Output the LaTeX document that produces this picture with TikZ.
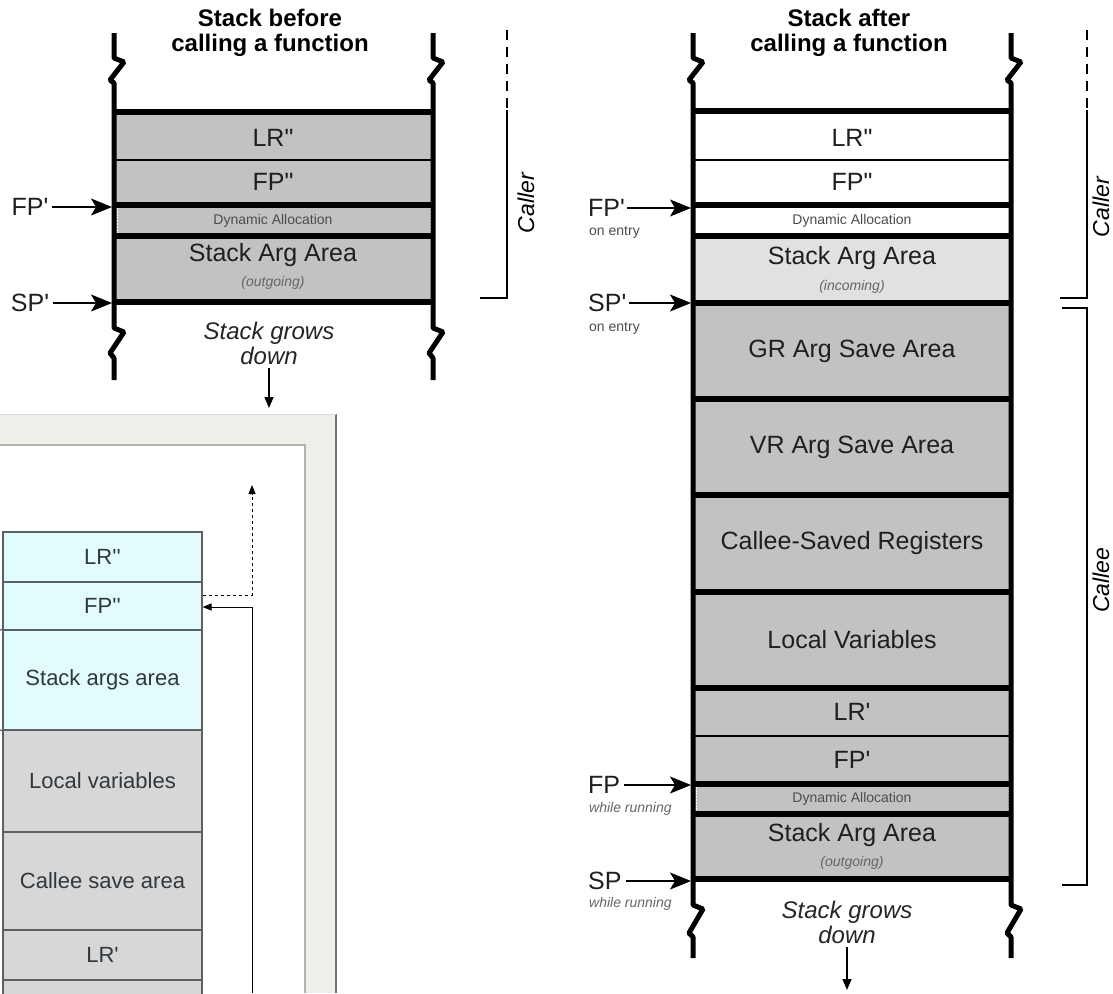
\documentclass[tikz,border=0pt]{standalone}
\usepackage{fontspec}
\newfontfamily\arial{Liberation Sans}
\usetikzlibrary{arrows.meta}
\definecolor{slotgray}{HTML}{C2C2C2}
\definecolor{slotpale}{HTML}{E1E1E1}
\definecolor{framebeige}{HTML}{EFEEE9}
\definecolor{argcyan}{HTML}{E2FBFD}
\definecolor{localgray}{HTML}{D7D7D7}
\definecolor{boxline}{HTML}{5B6062}
\definecolor{boxtext}{HTML}{30383E}

\begin{document}
\begin{tikzpicture}[x=1pt, y=-1pt,
    every node/.style={font=\arial},
    lbl/.style={font=\arial\fontsize{25}{27}\selectfont, text=black!88},
    entry/.style={font=\arial\fontsize{14}{16}\selectfont, text=black!70},
    note/.style={font=\arial\fontsize{14}{16}\selectfont\itshape, text=black!60},
    title/.style={font=\arial\fontsize{24}{25}\selectfont\bfseries, align=center},
    grows/.style={font=\arial\fontsize{24}{25}\selectfont\itshape, align=center, text=black!85},
    side/.style={font=\arial\fontsize{23}{25}\selectfont\itshape, rotate=90, inner sep=0pt},
    wall/.style={line width=5pt, line join=bevel},
    divider/.style={line width=6.5pt},
    fine/.style={line width=1.2pt},
    ptr/.style={line width=1.5pt, -{Stealth[length=21pt,width=17pt,inset=5pt]}},
    down/.style={line width=1.5pt, -{Triangle[length=11pt,width=9pt]}},
    bracket/.style={line width=2.5pt},
    cell/.style={draw=boxline, line width=1.2pt, minimum width=199pt, inner sep=0pt,
                 font=\arial\fontsize{22}{24}\selectfont, text=boxtext},
    dynedge/.style={white, line width=1pt, dash pattern=on 1.5pt off 1.5pt}]
    \useasboundingbox (0,0) rectangle (1113,993);
    \fill[white] (0,0) rectangle (1113,993);

    % screenshot frame (bottom left)
    \fill[framebeige] (0,414) rectangle (337,993);
    \draw[line width=2.5pt, black!55] (336,414) -- (336,993);
    \draw[line width=1pt, black!15] (0,414.5) -- (336,414.5);
    \fill[white] (0,445) rectangle (305,993);
    \draw[line width=2pt, black!30] (0,445) -- (305,445) -- (305,993);

    \node[cell, fill=argcyan, minimum height=50pt] (sLR) at (102.5,557) {LR''};
    \node[cell, fill=argcyan, minimum height=48pt] (sFP) at (102.5,606) {FP''};
    \node[cell, fill=argcyan, minimum height=100pt] (sArgs) at (102.5,680) {Stack args area};
    \node[cell, fill=localgray, minimum height=102pt] (sLocal) at (102.5,781) {Local variables};
    \node[cell, fill=localgray, minimum height=98pt] (sSave) at (102.5,881) {Callee save area};
    \node[cell, fill=localgray, minimum height=50pt] (sLR1) at (102.5,955) {LR'};
    \node[cell, fill=localgray, minimum height=50pt] (sNext) at (102.5,1005) {};

    \coordinate (tickA) at (0,630);
    \coordinate (tickB) at (0,730);
    \draw[boxline, line width=1.2pt] (tickA) -- (sArgs.north west);
    \draw[boxline, line width=1.2pt] (tickB) -- (sArgs.south west);

    \coordinate (upEnd) at (252,485);
    \coordinate (loopStart) at (252,993);
    \draw[dashed, line width=1pt, -{Triangle[length=9pt,width=7pt]}] ([yshift=11pt]sFP.east) -| (upEnd);
    \draw[line width=1pt, -{Triangle[length=9pt,width=7pt]}] (loopStart) |- ([yshift=-1pt]sFP.east);

    % Stack before calling a function
    \fill[slotgray] (114,112) rectangle (433,302);
    \draw[fine] (114,160) -- (433,160);
    \foreach \y in {112,205,236,302} \draw[divider] (114,\y) -- (433,\y);
    \draw[dynedge] (117,208) -- (117,233) (430,208) -- (430,233);
    \foreach \x in {114,433}
        \draw[wall] (\x,33) -- (\x,58) -- ++(10,4) -- ++(-14,18) -- ++(4,3)
            -- (\x,328) -- ++(10,4) -- ++(-14,21) -- ++(4,5) -- (\x,380);

    \node[title] (titleL) at (270,33) {Stack before\\calling a function};
    \node[lbl] (lrL) at (273,138) {LR"};
    \node[lbl] (fpL) at (273,182) {FP"};
    \node[entry] (dynL) at (273,221) {Dynamic Allocation};
    \node[lbl] (argL) at (273,255) {Stack Arg Area};
    \node[note] (outL) at (273,283) {(outgoing)};
    \node[grows] (growL) at (269,343) {Stack grows\\down};
    \coordinate (growLend) at (269,408);
    \draw[down] (growL) -- (growLend);

    \coordinate (wallL) at (112,0);
    \node[lbl] (fpOld) at (30,207) {FP'};
    \node[lbl] (spOld) at (30,303) {SP'};
    \draw[ptr] (fpOld) -- (fpOld -| wallL);
    \draw[ptr] (spOld) -- (spOld -| wallL);

    \coordinate (cTopL) at (507,30);
    \coordinate (cMidL) at (507,110);
    \coordinate (cBotL) at (480,298);
    \draw[bracket, dash pattern=on 10pt off 7pt] (cTopL) -- (cMidL);
    \draw[bracket] (cMidL) |- (cBotL);
    \node[side] (callerL) at (526,203) {Caller};

    % Stack after calling a function
    \fill[slotpale] (693,236) rectangle (1011,303);
    \fill[slotgray] (693,303) rectangle (1011,879);
    \foreach \y in {160,736} \draw[fine] (693,\y) -- (1011,\y);
    \foreach \y in {111,205,236,303,399,495,592,688,784,814,879}
        \draw[divider] (693,\y) -- (1011,\y);
    \draw[dynedge] (696,208) -- (696,233) (1008,208) -- (1008,233);
    \draw[dynedge] (696,787) -- (696,811) (1008,787) -- (1008,811);
    \foreach \x in {693,1011}
        \draw[wall] (\x,33) -- (\x,58) -- ++(10,4) -- ++(-14,18) -- ++(4,3)
            -- (\x,905) -- ++(10,4) -- ++(-14,24) -- ++(4,4) -- (\x,958);

    \node[title] (titleR) at (849,33) {Stack after\\calling a function};
    \node[lbl] (lrR) at (852,138) {LR"};
    \node[lbl] (fpR) at (852,182) {FP"};
    \node[entry] (dynR) at (852,221) {Dynamic Allocation};
    \node[lbl] (argR) at (852,258) {Stack Arg Area};
    \node[note] (inR) at (852,287) {(incoming)};
    \node[lbl] (grR) at (852,351) {GR Arg Save Area};
    \node[lbl] (vrR) at (852,447) {VR Arg Save Area};
    \node[lbl] (csrR) at (852,543) {Callee-Saved Registers};
    \node[lbl] (lvR) at (852,640) {Local Variables};
    \node[lbl] (lr1R) at (852,712) {LR'};
    \node[lbl] (fp1R) at (852,760) {FP'};
    \node[entry] (dyn2R) at (852,799) {Dynamic Allocation};
    \node[lbl] (arg2R) at (852,835) {Stack Arg Area};
    \node[note] (outR) at (852,863) {(outgoing)};
    \node[grows] (growR) at (847,922) {Stack grows\\down};
    \coordinate (growRend) at (847,990);
    \draw[down] (growR) -- (growRend);

    \coordinate (wallR) at (691,0);
    \node[lbl, anchor=west, inner sep=2pt] (fpEntry) at (586,208) {FP'};
    \node[entry, anchor=west, inner sep=1pt] (fpEntryNote) at (588,232) {on entry};
    \node[lbl, anchor=west, inner sep=2pt] (spEntry) at (586,303) {SP'};
    \node[entry, anchor=west, inner sep=1pt] (spEntryNote) at (588,328) {on entry};
    \node[lbl, anchor=west, inner sep=4pt] (fpRun) at (584,785) {FP};
    \node[note, anchor=west, inner sep=1pt] (fpRunNote) at (588,809) {while running};
    \node[lbl, anchor=west, inner sep=4pt] (spRun) at (584,881) {SP};
    \node[note, anchor=west, inner sep=1pt] (spRunNote) at (588,904) {while running};
    \draw[ptr] (fpEntry) -- (fpEntry -| wallR);
    \draw[ptr] (spEntry) -- (spEntry -| wallR);
    \draw[ptr] (fpRun) -- (fpRun -| wallR);
    \draw[ptr] (spRun) -- (spRun -| wallR);

    \coordinate (cTopR) at (1087,30);
    \coordinate (cMidR) at (1087,110);
    \coordinate (cBotR) at (1060,298);
    \draw[bracket, dash pattern=on 10pt off 7pt] (cTopR) -- (cMidR);
    \draw[bracket] (cMidR) |- (cBotR);
    \node[side] (callerR) at (1101,207) {Caller};

    \coordinate (eTopR) at (1062,308);
    \coordinate (eCornerR) at (1087,885);
    \coordinate (eBotR) at (1062,885);
    \draw[bracket] (eTopR) -| (eCornerR) -- (eBotR);
    \node[side] (calleeR) at (1101,580) {Callee};
\end{tikzpicture}
\end{document}
